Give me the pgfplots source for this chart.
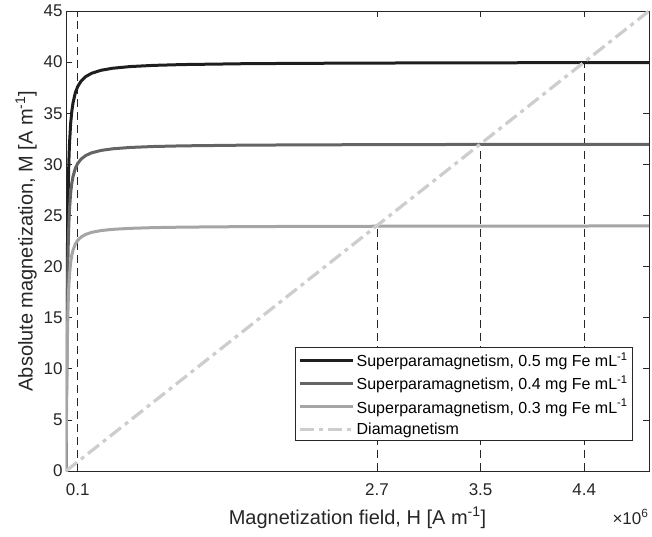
\documentclass[border=0pt]{standalone}
\usepackage{fontspec}
\setmainfont{Liberation Sans}
\usepackage{pgfplots}
\pgfplotsset{compat=1.18}

\definecolor{spmA}{RGB}{30,30,30}
\definecolor{spmB}{RGB}{100,100,100}
\definecolor{spmC}{RGB}{165,165,165}
\definecolor{diam}{RGB}{205,205,205}
\definecolor{axgray}{RGB}{38,38,38}

\begin{document}
\begin{tikzpicture}[font=\fontsize{17bp}{20bp}\selectfont]
\begin{axis}[
  width=583bp, height=460bp, scale only axis,
  xmin=0, xmax=5, ymin=0, ymax=45,
  xtick={0.1,2.6667,3.5556,4.4444},
  xticklabels={0.1,2.7,3.5,4.4},
  ytick={0,5,...,45},
  tick align=inside,
  major tick length=6bp,
  axis line style={axgray, line width=0.7bp},
  tick style={axgray, line width=0.7bp},
  xlabel={Magnetization field, H [A m\textsuperscript{-1}]},
  ylabel={Absolute magnetization, M [A m\textsuperscript{-1}]},
  xlabel style={font=\fontsize{20bp}{23bp}\selectfont, text=axgray,
    at={(rel axis cs:0.5,0)}, anchor=base, yshift=-53bp},
  ylabel style={font=\fontsize{20bp}{23bp}\selectfont, text=axgray},
  ticklabel style={font=\fontsize{17bp}{20bp}\selectfont, text=axgray},
  xticklabel style={yshift=-9bp},
  /pgf/number format/assume math mode=true,
  legend cell align=left,
  legend style={at={(rel axis cs:0.9726,0.065)}, anchor=south east,
    draw=axgray, line width=0.7bp, fill=white,
    font=\fontsize{16bp}{19bp}\selectfont, row sep=4bp, inner sep=3bp},
  legend image code/.code={\draw[#1] (0bp,0bp) -- (53bp,0bp);},
]
% guide lines at the intersections
\addplot[forget plot, axgray, line width=0.7bp, dash pattern=on 8bp off 5bp] coordinates {(0.1,0) (0.1,45)};
\addplot[forget plot, axgray, line width=0.7bp, dash pattern=on 8bp off 5bp] coordinates {(2.6667,0) (2.6667,24)};
\addplot[forget plot, axgray, line width=0.7bp, dash pattern=on 8bp off 5bp] coordinates {(3.5556,0) (3.5556,32)};
\addplot[forget plot, axgray, line width=0.7bp, dash pattern=on 8bp off 5bp] coordinates {(4.4444,0) (4.4444,40)};

\addplot[spmA, line width=3bp] coordinates {
(0,0) (0.002,4.412) (0.004,8.636) (0.006,12.522) (0.009,17.525) (0.012,21.492)
(0.016,25.388) (0.02,28.102) (0.025,30.419) (0.03,32.004) (0.04,34.0) (0.05,35.2)
(0.06,36.0) (0.08,37.0) (0.1,37.6) (0.13,38.154) (0.17,38.588) (0.22,38.909)
(0.3,39.2) (0.4,39.4) (0.55,39.564) (0.75,39.68) (1,39.76) (1.5,39.84)
(2,39.88) (3,39.92) (4,39.94) (5,39.952)};
\addlegendentry{Superparamagnetism, 0.5 mg Fe mL\textsuperscript{-1}}

\addplot[spmB, line width=3bp] coordinates {
(0,0) (0.002,3.530) (0.004,6.909) (0.006,10.017) (0.009,14.020) (0.012,17.194)
(0.016,20.310) (0.02,22.482) (0.025,24.335) (0.03,25.603) (0.04,27.2) (0.05,28.16)
(0.06,28.8) (0.08,29.6) (0.1,30.08) (0.13,30.523) (0.17,30.871) (0.22,31.127)
(0.3,31.36) (0.4,31.52) (0.55,31.651) (0.75,31.744) (1,31.808) (1.5,31.872)
(2,31.904) (3,31.936) (4,31.952) (5,31.962)};
\addlegendentry{Superparamagnetism, 0.4 mg Fe mL\textsuperscript{-1}}

\addplot[spmC, line width=3bp] coordinates {
(0,0) (0.002,2.647) (0.004,5.182) (0.006,7.513) (0.009,10.515) (0.012,12.895)
(0.016,15.233) (0.02,16.861) (0.025,18.252) (0.03,19.202) (0.04,20.4) (0.05,21.12)
(0.06,21.6) (0.08,22.2) (0.1,22.56) (0.13,22.892) (0.17,23.153) (0.22,23.346)
(0.3,23.52) (0.4,23.64) (0.55,23.738) (0.75,23.808) (1,23.856) (1.5,23.904)
(2,23.928) (3,23.952) (4,23.964) (5,23.971)};
\addlegendentry{Superparamagnetism, 0.3 mg Fe mL\textsuperscript{-1}}

\addplot[diam, line width=3.2bp, dash pattern=on 14bp off 5bp on 4bp off 5bp] coordinates {(0,0) (5,45)};
\addlegendentry{Diamagnetism}

\coordinate (bl) at (rel axis cs:0,0);
\coordinate (br) at (rel axis cs:1,0);
\coordinate (tr) at (rel axis cs:1,1);
\end{axis}
\node[anchor=base east, text=axgray, font=\fontsize{17bp}{20bp}\selectfont] at ([xshift=3bp,yshift=-53bp]br) {×10\textsuperscript{6}};
\pgfresetboundingbox
\path ([shift={(-66bp,-66bp)}]bl) rectangle ([shift={(3bp,11bp)}]tr);
\end{tikzpicture}
\end{document}
